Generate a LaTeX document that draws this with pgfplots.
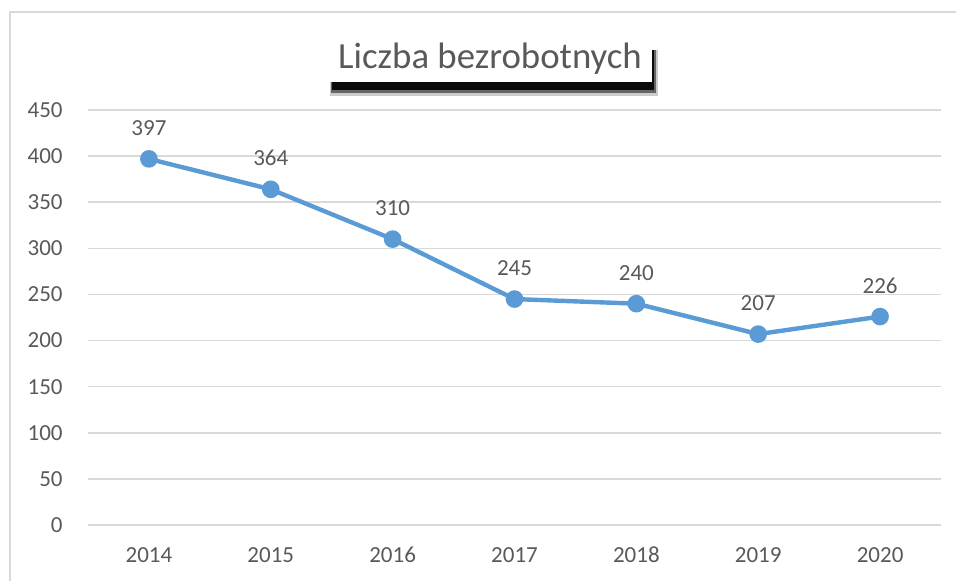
\documentclass[border=0pt]{standalone}
\usepackage{fontspec}
\setmainfont{Carlito}
\usepackage{pgfplots}
\pgfplotsset{compat=1.18}
\definecolor{LineBlue}{HTML}{5B9BD5}
\definecolor{TextGray}{HTML}{595959}
\definecolor{GridGray}{HTML}{D9D9D9}

\begin{document}
\begin{tikzpicture}
\useasboundingbox (0pt,0pt) rectangle (478pt,290pt);
\clip (0pt,0pt) rectangle (478pt,290pt);
% outer chart frame (cut off at right and bottom)
\draw[GridGray,line width=0.8pt] (5pt,-10pt) -- (5pt,284pt) -- (490pt,284pt);
\begin{axis}[
  at={(44pt,27.5pt)}, anchor=south west,
  scale only axis,
  width=426.5pt, height=207.5pt,
  xmin=-0.5, xmax=6.5,
  ymin=0, ymax=450,
  xtick={0,1,2,3,4,5,6},
  xticklabels={2014,2015,2016,2017,2018,2019,2020},
  ytick={0,50,100,150,200,250,300,350,400,450},
  /pgf/number format/assume math mode=true,
  axis line style={draw=none},
  major tick length=0pt,
  ymajorgrids,
  grid style={draw=GridGray,line width=0.8pt},
  tick label style={text=TextGray,font=\fontsize{11.5}{13}\selectfont},
  xticklabel style={anchor=center,inner sep=0pt,yshift=-15pt},
  yticklabel style={anchor=east,inner sep=0pt,xshift=-12.5pt},
  nodes near coords,
  every node near coord/.append style={anchor=center,yshift=15.5pt,text=TextGray,font=\fontsize{11.5}{13}\selectfont},
  clip=false
]
\addplot[draw=LineBlue,line width=2.2pt,mark=*,mark size=3.3pt,mark options={fill=LineBlue,draw=LineBlue}]
  coordinates {(0,397) (1,364) (2,310) (3,245) (4,240) (5,207) (6,226)};
\end{axis}
% title with shadow
\fill[black,opacity=0.2] (165pt,242pt) rectangle (329pt,265pt);
\fill[black,opacity=0.5] (165.5pt,243.5pt) rectangle (328pt,265pt);
\fill[black,opacity=0.9] (166pt,245pt) rectangle (327pt,265pt);
\node[fill=white,minimum width=162pt,minimum height=23.5pt,inner sep=0pt,text=TextGray,font=\fontsize{18.4}{22}\selectfont] at (245pt,260.75pt) {Liczba bezrobotnych};
\end{tikzpicture}
\end{document}
